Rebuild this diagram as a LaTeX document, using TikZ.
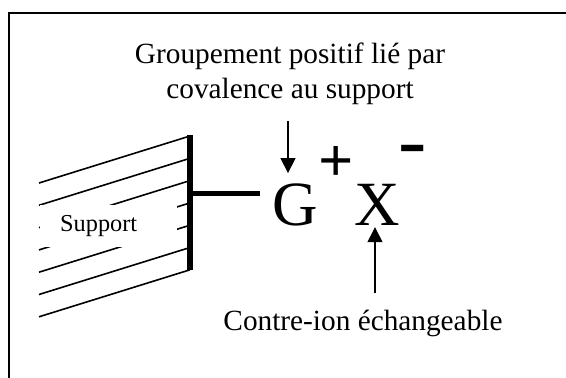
\documentclass[tikz,border=0pt]{standalone}
\usepackage{fontspec}
\setmainfont{Liberation Serif}
\usepackage{tikz}
\usetikzlibrary{arrows.meta, positioning, calc}

\tikzset{
  hatch/.style={line width=1.6pt},
  arr/.style={line width=1.4pt, -{Triangle[length=15pt, width=15pt]}},
  lbl/.style={inner sep=0pt, font=\fontsize{29.3}{35}\selectfont, align=center},
  ion/.style={inner sep=0pt, anchor=base, font=\fontsize{63}{70}\selectfont}
}

\begin{document}
\begin{tikzpicture}[x=1pt, y=-1pt]
  \useasboundingbox (0,0) rectangle (566,378);
  % frame (cut at right and bottom)
  \draw[line width=1.6pt] (9,378) -- (9,13) -- (566,13);
  % hatched support
  \foreach \i in {0,...,6}
    \draw[hatch] (39,{183+22.3*\i}) -- (190,{136+22.3*\i});
  \node[fill=white, anchor=west, inner xsep=20pt, inner ysep=0pt, minimum height=42pt,
        text width=97pt, align=left, font=\fontsize{24.3}{28}\selectfont] (support) at (40,226) {Support};
  \draw[line width=6.5pt] (190,135) coordinate (bartop) -- (190,270);
  \coordinate (link) at (190,193);
  % ions
  \node[ion] (g) at (295,225) {G};
  \node[ion, font=\fontsize{62}{70}\selectfont\bfseries] (plus) at (336,181) {+};
  \node[ion] (x) at (377,225) {X};
  \node[ion, font=\fontsize{85}{90}\selectfont] (minus) at (413,168) {-};
  \draw[line width=5pt] (link) -- ++(70,0);
  % labels
  \node[lbl] (grp) at (290,73.7) {Groupement positif lié par\\covalence au support};
  \node[lbl, anchor=base] (ci) at (363,330) {Contre-ion échangeable};
  \coordinate (gtop) at (288,121);
  \coordinate (xbot) at (375,293);
  \draw[arr] (gtop) -- ([yshift=10pt]g.north -| gtop);
  \draw[arr] (xbot) -- ([yshift=-2pt]x.south -| xbot);
\end{tikzpicture}
\end{document}
